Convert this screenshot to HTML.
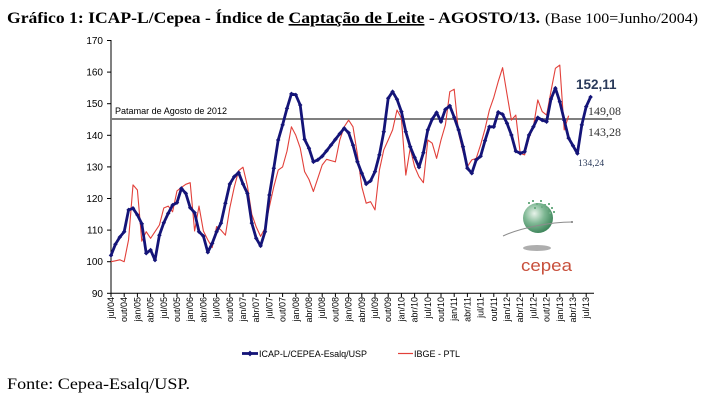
<!DOCTYPE html>
<html>
<head>
<meta charset="utf-8">
<style>
html,body{margin:0;padding:0;background:#fff;}
svg{display:block;}
.sans{font-family:"Liberation Sans",Arial,sans-serif;}
.serif{font-family:"Liberation Serif","Times New Roman",serif;}
</style>
</head>
<body>
<svg width="701" height="401" viewBox="0 0 701 401" xmlns="http://www.w3.org/2000/svg">
<rect width="701" height="401" fill="#fff"/>

<!-- Title -->
<text class="serif" x="7" y="23" font-size="16" font-weight="bold" fill="#000" textLength="533" lengthAdjust="spacingAndGlyphs">Gráfico 1: ICAP-L/Cepea - Índice de <tspan style="text-decoration:underline">Captação de Leite</tspan> - AGOSTO/13.</text>
<text class="serif" x="545" y="23" font-size="14.5" fill="#000" textLength="153" lengthAdjust="spacingAndGlyphs">(Base 100=Junho/2004)</text>

<!-- Y axis -->
<line x1="111" y1="40" x2="111" y2="293.5" stroke="#000" stroke-width="1"/>
<g stroke="#000" stroke-width="1">
<line x1="107" y1="40.5" x2="111" y2="40.5"/>
<line x1="107" y1="72.1" x2="111" y2="72.1"/>
<line x1="107" y1="103.7" x2="111" y2="103.7"/>
<line x1="107" y1="135.3" x2="111" y2="135.3"/>
<line x1="107" y1="166.9" x2="111" y2="166.9"/>
<line x1="107" y1="198.5" x2="111" y2="198.5"/>
<line x1="107" y1="230.1" x2="111" y2="230.1"/>
<line x1="107" y1="261.7" x2="111" y2="261.7"/>
<line x1="107" y1="293.3" x2="111" y2="293.3"/>
</g>
<g class="sans" font-size="10" fill="#000" text-anchor="end">
<text x="103" y="44">170</text>
<text x="103" y="75.6">160</text>
<text x="103" y="107.2">150</text>
<text x="103" y="138.8">140</text>
<text x="103" y="170.4">130</text>
<text x="103" y="202">120</text>
<text x="103" y="233.6">110</text>
<text x="103" y="265.2">100</text>
<text x="103" y="296.8">90</text>
</g>

<!-- X axis -->
<line x1="111" y1="293.3" x2="594" y2="293.3" stroke="#000" stroke-width="1"/>
<g id="xticks" stroke="#000" stroke-width="1"></g>
<g class="sans" font-size="9" fill="#000" text-anchor="end">
<text transform="translate(114,297) rotate(-90)">jul/04</text>
<text transform="translate(127.2,297) rotate(-90)">out/04</text>
<text transform="translate(140.4,297) rotate(-90)">jan/05</text>
<text transform="translate(153.6,297) rotate(-90)">abr/05</text>
<text transform="translate(166.8,297) rotate(-90)">jul/05</text>
<text transform="translate(180,297) rotate(-90)">out/05</text>
<text transform="translate(193.2,297) rotate(-90)">jan/06</text>
<text transform="translate(206.4,297) rotate(-90)">abr/06</text>
<text transform="translate(219.6,297) rotate(-90)">jul/06</text>
<text transform="translate(232.8,297) rotate(-90)">out/06</text>
<text transform="translate(246,297) rotate(-90)">jan/07</text>
<text transform="translate(259.2,297) rotate(-90)">abr/07</text>
<text transform="translate(272.4,297) rotate(-90)">jul/07</text>
<text transform="translate(285.6,297) rotate(-90)">out/07</text>
<text transform="translate(298.8,297) rotate(-90)">jan/08</text>
<text transform="translate(312,297) rotate(-90)">abr/08</text>
<text transform="translate(325.2,297) rotate(-90)">jul/08</text>
<text transform="translate(338.4,297) rotate(-90)">out/08</text>
<text transform="translate(351.6,297) rotate(-90)">jan/09</text>
<text transform="translate(364.8,297) rotate(-90)">abr/09</text>
<text transform="translate(378,297) rotate(-90)">jul/09</text>
<text transform="translate(391.2,297) rotate(-90)">out/09</text>
<text transform="translate(404.4,297) rotate(-90)">jan/10</text>
<text transform="translate(417.6,297) rotate(-90)">abr/10</text>
<text transform="translate(430.8,297) rotate(-90)">jul/10</text>
<text transform="translate(444,297) rotate(-90)">out/10</text>
<text transform="translate(457.2,297) rotate(-90)">jan/11</text>
<text transform="translate(470.4,297) rotate(-90)">abr/11</text>
<text transform="translate(483.6,297) rotate(-90)">jul/11</text>
<text transform="translate(496.8,297) rotate(-90)">out/11</text>
<text transform="translate(510,297) rotate(-90)">jan/12</text>
<text transform="translate(523.2,297) rotate(-90)">abr/12</text>
<text transform="translate(536.4,297) rotate(-90)">jul/12</text>
<text transform="translate(549.6,297) rotate(-90)">out/12</text>
<text transform="translate(562.8,297) rotate(-90)">jan/13</text>
<text transform="translate(576,297) rotate(-90)">abr/13</text>
<text transform="translate(589.2,297) rotate(-90)">jul/13</text>
</g>

<!-- Patamar line -->
<line x1="111" y1="119" x2="612" y2="119" stroke="#7f7f7f" stroke-width="2"/>
<text class="sans" x="115" y="114" font-size="9.5" fill="#000" textLength="112" lengthAdjust="spacingAndGlyphs">Patamar de Agosto de 2012</text>

<!-- Logo -->
<defs>
<radialGradient id="glb" cx="0.38" cy="0.35" r="0.75">
<stop offset="0" stop-color="#e8f3ea"/>
<stop offset="0.45" stop-color="#7fb894"/>
<stop offset="1" stop-color="#2f7a4e"/>
</radialGradient>
</defs>
<ellipse cx="537" cy="248" rx="14" ry="3" fill="#9a9a9a" opacity="0.8"/>
<circle cx="538" cy="218" r="15" fill="url(#glb)"/>
<g fill="#6fae85">
<rect x="528" y="202" width="2" height="2"/><rect x="532" y="200" width="2" height="2"/>
<rect x="536" y="203" width="2" height="2"/><rect x="540" y="200" width="2" height="2"/>
<rect x="544" y="204" width="2" height="2"/><rect x="548" y="203" width="2" height="2"/>
<rect x="551" y="207" width="2" height="2"/><rect x="546" y="208" width="2" height="2"/>
<rect x="541" y="206" width="2" height="2"/><rect x="534" y="207" width="2" height="2"/>
<rect x="553" y="211" width="2" height="2"/><rect x="549" y="212" width="2" height="2"/>
</g>
<path d="M503,236 C520,228 550,222 572,222" stroke="#8c8c8c" stroke-width="1" fill="none"/>
<circle cx="572" cy="222" r="1" fill="#777"/>
<text class="sans" x="521" y="271" font-size="17" fill="#c8503c" textLength="51" lengthAdjust="spacingAndGlyphs">cepea</text>

<!-- Series -->
<polyline id="red" fill="none" stroke="#e2403a" stroke-width="1.1" stroke-linejoin="round"/>
<polyline id="blue" fill="none" stroke="#141478" stroke-width="2.8" stroke-linejoin="round"/>
<g id="bmk" fill="#141478"></g>

<!-- Value annotations -->
<text class="sans" x="576" y="89" font-size="13.5" font-weight="bold" fill="#2a3a5a">152,11</text>
<text class="serif" x="588" y="115" font-size="12" fill="#333">149,08</text>
<text class="serif" x="588" y="136" font-size="12" fill="#333">143,28</text>
<text class="serif" x="578" y="166" font-size="9.5" fill="#2a3a5a">134,24</text>

<!-- Legend -->
<line x1="242" y1="353.5" x2="258" y2="353.5" stroke="#141478" stroke-width="2.8"/>
<rect x="248" y="351.5" width="4" height="4" fill="#141478" transform="rotate(45 250 353.5)"/>
<text class="sans" x="259" y="357" font-size="9" fill="#000" textLength="108" lengthAdjust="spacingAndGlyphs">ICAP-L/CEPEA-Esalq/USP</text>
<line x1="398" y1="353.5" x2="413" y2="353.5" stroke="#e2403a" stroke-width="1.2"/>
<text class="sans" x="414" y="357" font-size="9" fill="#000" textLength="46" lengthAdjust="spacingAndGlyphs">IBGE - PTL</text>

<!-- Source -->
<text class="serif" x="7" y="389" font-size="16" fill="#000" textLength="183" lengthAdjust="spacingAndGlyphs">Fonte: Cepea-Esalq/USP.</text>
</svg>

<script>
(function(){
var B=[102,105.5,107.8,109.5,116.4,116.9,114.8,112,102.7,103.7,100.5,108.4,112.3,115.3,117.9,118.7,123.2,121.6,117.1,115.5,109.5,108.1,103.0,105.8,109.5,112.2,118.5,124.6,126.9,128.2,124.6,121.6,112.2,107.4,105.0,109.5,121.1,129.6,138.5,143.3,148.5,153.1,152.8,149.6,138.7,135.9,131.6,132.2,133.4,135.1,136.9,138.7,140.5,142.2,140.8,136.9,131.6,128.0,124.6,125.6,128.5,133.8,141.1,151.7,153.8,151.4,147.5,141.1,136.4,133.0,129.9,134.5,141.7,145.1,147.2,144.3,148.2,149.3,145.7,141.7,136.4,129.6,128.0,132.2,133.4,138.3,142.7,142.7,147.3,146.6,143.8,140.1,135.0,134.3,134.8,140.1,142.7,145.6,144.8,144.3,151.5,154.9,150.6,144.8,139.1,136.7,134.24,143.28,149.08,152.11];
var R=[100,100.3,100.6,100,107,124.3,122.7,106.5,109.5,107.4,109.5,111.6,117,117.6,115.8,122.4,123.5,124.5,125,109.7,117.6,109.7,106.9,104.5,111.1,110,108.4,117,123.5,128.8,129.9,124,115,111,108,110.6,117.4,123.7,129,130,135,142.7,140,136,128.5,126,122.2,126.4,130.6,132.4,132,131.6,138.5,142.7,144.8,142.7,134,123.7,118.5,119,116.4,129,135.4,138.5,141.7,148,145.4,127.4,135.9,130.1,126.9,125,138.5,137.5,132.7,138.5,143.3,153.8,154.6,140.6,134.8,130.1,132.2,132.7,137,142,148,152,157,161.4,153,144.8,146.4,134.3,133.8,139.1,142.7,151.2,147.5,146.4,154,161.2,162.2,141.7,146.2];
function X(i){return 111+4.4*i;}
function Y(v){return 293.3-(v-90)*3.16;}
function pts(a){var s=[];for(var i=0;i<a.length;i++){s.push(X(i).toFixed(1)+","+Y(a[i]).toFixed(1));}return s.join(" ");}
document.getElementById("red").setAttribute("points",pts(R));
document.getElementById("blue").setAttribute("points",pts(B));
var ns="http://www.w3.org/2000/svg";
var g=document.getElementById("bmk");
for(var i=0;i<B.length;i++){
 var r=document.createElementNS(ns,"rect");
 var x=X(i),y=Y(B[i]);
 r.setAttribute("x",(x-1.6).toFixed(1));r.setAttribute("y",(y-1.6).toFixed(1));
 r.setAttribute("width","3.2");r.setAttribute("height","3.2");
 r.setAttribute("transform","rotate(45 "+x.toFixed(1)+" "+y.toFixed(1)+")");
 g.appendChild(r);
}
var t=document.getElementById("xticks");
for(var k=0;k<=36;k++){
 var l=document.createElementNS(ns,"line");
 var xx=111+13.2*k;
 l.setAttribute("x1",xx);l.setAttribute("x2",xx);
 l.setAttribute("y1","293.3");l.setAttribute("y2","297");
 t.appendChild(l);
}
})();
</script>
</body>
</html>
